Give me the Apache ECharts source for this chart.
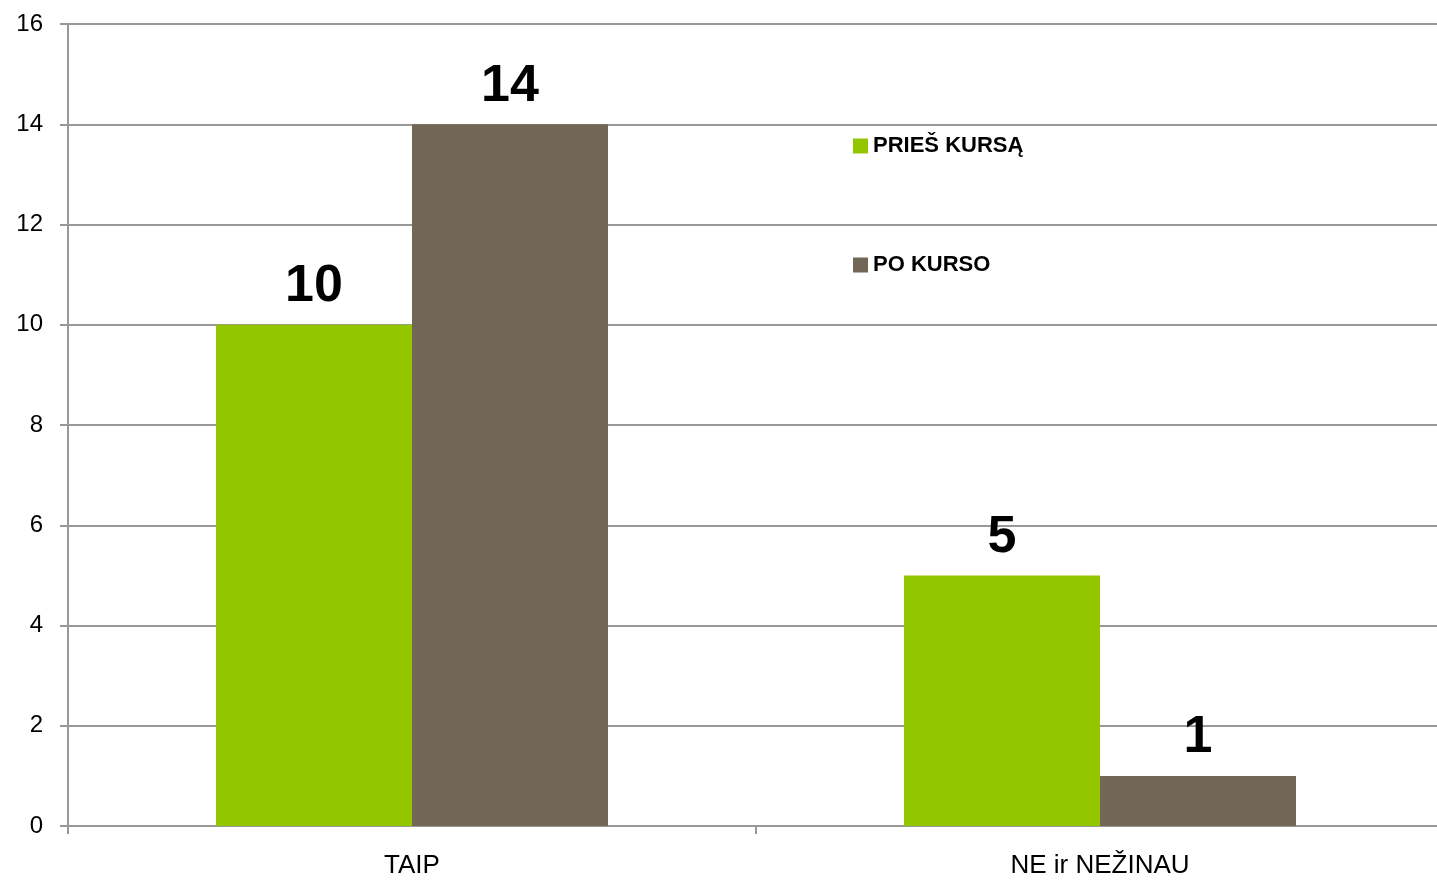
<!DOCTYPE html>
<html>
<head>
<meta charset="utf-8">
<script src="https://cdn.jsdelivr.net/npm/echarts@6/dist/echarts.min.js"></script>
<style>
  html, body { margin: 0; padding: 0; background: #fff; overflow: hidden; }
  /* plot runs a few px past the right edge of the picture */
  #chart { width: 1444px; height: 882px; }
</style>
</head>
<body>
<div id="chart"></div>
<script>
const categories = ['TAIP', 'NE ir NEŽINAU']
const seriesNames = ['PRIEŠ KURSĄ', 'PO KURSO']
const priesKursa = [10, 5]
const poKurso = [14, 1]
const yTicks = { min: 0, max: 16, interval: 2 }

const chart = echarts.init(document.getElementById('chart'))

const gridColor = '#989898'
const fontFamily = '"Liberation Sans", Arial, sans-serif'

const labelStyle = {
  show: true,
  position: 'top',
  distance: 12,
  fontFamily,
  fontSize: 52,
  fontWeight: 'bold',
  color: '#000'
}

const option = {
  animation: false,
  grid: { left: 68, right: 0, top: 24, bottom: 56, containLabel: false },
  legend: {
    data: seriesNames,
    orient: 'vertical',
    left: 848,
    top: 130,
    itemWidth: 15,
    itemHeight: 15,
    itemGap: 97,
    icon: 'rect',
    textStyle: {
      fontFamily,
      fontSize: 22,
      fontWeight: 'bold',
      color: '#000',
      lineHeight: 22
    }
  },
  xAxis: {
    type: 'category',
    data: categories,
    axisLine: { lineStyle: { color: gridColor, width: 2 } },
    axisTick: { show: true, length: 8, lineStyle: { color: gridColor, width: 2 } },
    axisLabel: { fontFamily, fontSize: 26, color: '#000', margin: 27 }
  },
  yAxis: {
    type: 'value',
    min: yTicks.min,
    max: yTicks.max,
    interval: yTicks.interval,
    axisLine: { show: true, lineStyle: { color: gridColor, width: 2 } },
    axisTick: { show: true, length: 8, lineStyle: { color: gridColor, width: 2 } },
    axisLabel: { fontFamily, fontSize: 24, color: '#000', margin: 25 },
    splitLine: { lineStyle: { color: gridColor, width: 2 } }
  },
  series: [
    {
      name: seriesNames[0],
      type: 'bar',
      data: priesKursa,
      barWidth: 196,
      barGap: '0%',
      itemStyle: { color: '#94c600' },
      label: labelStyle
    },
    {
      name: seriesNames[1],
      type: 'bar',
      data: poKurso,
      barWidth: 196,
      barGap: '0%',
      itemStyle: { color: '#726657' },
      label: labelStyle
    }
  ]
}

chart.setOption(option)
</script>
</body>
</html>
